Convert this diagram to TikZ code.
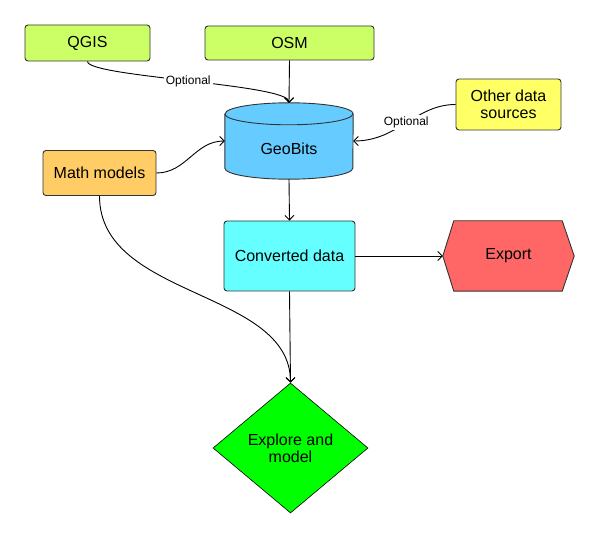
\documentclass[tikz,border=0pt]{standalone}
\usepackage{fontspec}
\setmainfont{Liberation Sans}
\usetikzlibrary{arrows.meta,shapes.geometric}
\definecolor{limec}{HTML}{CCFF66}
\definecolor{bluec}{HTML}{66CCFF}
\definecolor{orangec}{HTML}{FFCC66}
\definecolor{yellowc}{HTML}{FFFF66}
\definecolor{cyanc}{HTML}{66FFFF}
\definecolor{redc}{HTML}{FF6666}
\definecolor{greenc}{HTML}{00FF00}
\definecolor{edgec}{HTML}{333333}
\tikzset{
  x=1pt, y=1pt,
  box/.style={draw=edgec, line width=0.9pt, rounded corners=3pt, inner sep=0pt,
    align=center, font=\fontsize{16}{17}\selectfont},
  ghost/.style={inner sep=0pt, align=center, font=\fontsize{16}{17}\selectfont},
  conn/.style={line width=0.9pt, -{Straight Barb[length=4.5pt,width=9pt]}},
  opt/.style={fill=white, inner sep=2pt, font=\fontsize{12}{13}\selectfont},
}
\begin{document}
\begin{tikzpicture}
\useasboundingbox (0,0) rectangle (600,539);
% nodes
\node[box, fill=limec, minimum width=125, minimum height=36] (qgis) at (87.5,496) {QGIS};
\node[box, fill=limec, minimum width=169, minimum height=34] (osm) at (289.5,496) {OSM};
\node[ghost, minimum width=128, minimum height=76] (geobits) at (289,398) {};
\node[box, fill=orangec, minimum width=113, minimum height=45] (math) at (99.5,366) {Math models};
\node[box, fill=yellowc, minimum width=105, minimum height=51] (other) at (508.5,434.5) {Other data\\sources};
\node[box, fill=cyanc, minimum width=131, minimum height=70] (conv) at (289.5,283) {Converted data};
\node[ghost, minimum width=131, minimum height=70] (export) at (508.5,283) {};
\node[draw=black, line width=0.6pt, fill=greenc, diamond, aspect=1.19, minimum width=155, minimum height=130,
  inner sep=0pt, align=center, font=\fontsize{16}{17}\selectfont] (explore) at (290.5,91) {Explore and\\model};
% cylinder
\fill[bluec] ([yshift=-11]geobits.north west) -- ([yshift=11]geobits.south west)
  arc[start angle=180, end angle=360, x radius=64, y radius=11]
  -- ([yshift=-11]geobits.north east)
  arc[start angle=0, end angle=180, x radius=64, y radius=11] -- cycle;
\draw[edgec, line width=0.9pt] ([yshift=-11]geobits.north west) -- ([yshift=11]geobits.south west)
  arc[start angle=180, end angle=360, x radius=64, y radius=11]
  -- ([yshift=-11]geobits.north east)
  arc[start angle=0, end angle=180, x radius=64, y radius=11];
\draw[edgec, line width=0.9pt] ([yshift=-11]geobits.north west)
  arc[start angle=180, end angle=360, x radius=64, y radius=11];
\node[ghost] (geolabel) at ([yshift=-8]geobits.center) {GeoBits};
% hexagon
\draw[draw=edgec, line width=0.9pt, fill=redc] (export.west) -- ([xshift=11]export.north west)
  -- ([xshift=-12]export.north east) -- (export.east) -- ([xshift=-12]export.south east)
  -- ([xshift=11]export.south west) -- cycle;
\node[ghost] (exportlabel) at (export.center) {Export};
% connectors
\draw[conn] (qgis.south) .. controls (87.5,462) and (289,455) .. (geobits.north)
  node[opt, pos=0.5] (opt1) {Optional};
\draw[conn] (osm.south) -- (geobits.north);
\draw[conn] (other.west) .. controls +(-40,0) and +(45,0) .. (geobits.east)
  node[opt, pos=0.5] (opt2) {Optional};
\draw[conn] (math.east) .. controls +(30,0) and +(-30,0) .. (geobits.west);
\draw[conn] (geobits.south) -- (conv.north);
\draw[conn] (conv.east) -- (export.west);
\draw[conn] (conv.south) -- (explore.north);
\draw[conn] (math.south) .. controls (99.5,240) and (290.5,250) .. (explore.north);
\end{tikzpicture}
\end{document}
